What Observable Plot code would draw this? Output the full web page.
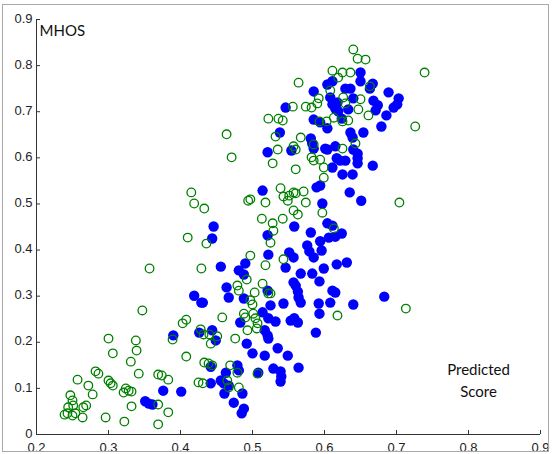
<!DOCTYPE html>
<html>
<head>
<meta charset="utf-8">
<script src="https://cdn.jsdelivr.net/npm/d3@7"></script>
<script src="https://cdn.jsdelivr.net/npm/@observablehq/plot@0.6"></script>
<style>
  html, body { margin: 0; padding: 0; background: #fff; }
  #wrap { position: relative; width: 552px; height: 454px; }
  #border { position: absolute; left: 2px; top: 4px; width: 545px; height: 446px; border: 1px solid #a8a8a8; pointer-events: none; }
</style>
</head>
<body>
<div id="wrap"><div id="border"></div></div>
<script>
const xTicks = [0.2, 0.3, 0.4, 0.5, 0.6, 0.7, 0.8, 0.9];
const yTicks = [0, 0.1, 0.2, 0.3, 0.4, 0.5, 0.6, 0.7, 0.8, 0.9];

// Green open circles
const greenX = [0.239,0.243,0.244,0.247,0.250,0.250,0.251,0.254,0.257,0.264,0.265,0.269,0.272,0.278,0.282,0.286,0.296,0.300,0.300,0.303,0.306,0.306,0.321,0.324,0.322,0.328,0.332,0.332,0.331,0.338,0.339,0.342,0.347,0.369,0.374,0.369,0.383,0.383,0.369,0.389,0.403,0.408,0.408,0.428,0.425,0.431,0.433,0.357,0.410,0.436,0.415,0.419,0.433,0.429,0.464,0.471,0.458,0.442,0.439,0.444,0.469,0.465,0.467,0.481,0.479,0.507,0.440,0.451,0.476,0.493,0.488,0.490,0.501,0.504,0.507,0.506,0.497,0.500,0.503,0.514,0.522,0.479,0.481,0.492,0.497,0.518,0.543,0.525,0.529,0.513,0.528,0.542,0.557,0.563,0.494,0.497,0.518,0.539,0.543,0.549,0.557,0.560,0.571,0.574,0.597,0.613,0.525,0.618,0.713,0.704,0.726,0.739,0.640,0.646,0.657,0.611,0.625,0.636,0.619,0.564,0.663,0.608,0.592,0.590,0.626,0.629,0.650,0.556,0.574,0.582,0.647,0.522,0.536,0.593,0.603,0.613,0.625,0.633,0.661,0.542,0.532,0.567,0.585,0.557,0.560,0.535,0.625,0.643,0.582,0.585,0.594,0.599,0.560,0.528,0.599,0.551,0.432];
const greenY = [0.043,0.046,0.059,0.085,0.074,0.041,0.063,0.046,0.119,0.037,0.059,0.063,0.106,0.087,0.137,0.132,0.037,0.208,0.117,0.111,0.176,0.106,0.091,0.100,0.028,0.095,0.093,0.061,0.158,0.204,0.182,0.132,0.269,0.130,0.128,0.065,0.119,0.048,0.022,0.206,0.241,0.249,0.169,0.228,0.113,0.111,0.156,0.360,0.427,0.414,0.525,0.501,0.490,0.360,0.651,0.601,0.254,0.197,0.154,0.150,0.150,0.117,0.102,0.102,0.134,0.132,0.217,0.213,0.208,0.226,0.262,0.254,0.262,0.252,0.241,0.230,0.291,0.282,0.308,0.327,0.306,0.323,0.312,0.336,0.388,0.367,0.380,0.416,0.442,0.468,0.458,0.468,0.486,0.477,0.507,0.510,0.503,0.534,0.516,0.507,0.525,0.523,0.527,0.503,0.481,0.447,0.306,0.258,0.273,0.503,0.668,0.785,0.835,0.815,0.813,0.789,0.785,0.785,0.774,0.763,0.755,0.746,0.729,0.718,0.731,0.718,0.727,0.711,0.711,0.709,0.705,0.685,0.685,0.679,0.679,0.687,0.679,0.681,0.692,0.681,0.646,0.644,0.629,0.625,0.618,0.618,0.620,0.631,0.601,0.594,0.596,0.579,0.575,0.588,0.557,0.518,0.217];

// Blue filled dots
const blueX = [0.351,0.356,0.361,0.376,0.401,0.390,0.426,0.419,0.429,0.446,0.444,0.456,0.464,0.467,0.444,0.449,0.442,0.442,0.456,0.460,0.467,0.461,0.463,0.474,0.479,0.481,0.486,0.488,0.485,0.483,0.488,0.431,0.492,0.500,0.517,0.535,0.549,0.564,0.508,0.529,0.539,0.540,0.539,0.517,0.521,0.522,0.514,0.522,0.532,0.553,0.558,0.563,0.588,0.593,0.592,0.608,0.640,0.683,0.543,0.525,0.560,0.563,0.564,0.567,0.557,0.521,0.593,0.611,0.615,0.567,0.583,0.599,0.617,0.631,0.546,0.522,0.490,0.481,0.488,0.551,0.557,0.576,0.579,0.585,0.596,0.594,0.606,0.615,0.624,0.581,0.604,0.611,0.558,0.521,0.589,0.594,0.597,0.635,0.651,0.514,0.521,0.554,0.538,0.546,0.585,0.604,0.611,0.629,0.636,0.650,0.650,0.667,0.663,0.689,0.703,0.668,0.674,0.671,0.696,0.701,0.611,0.615,0.619,0.618,0.608,0.633,0.640,0.585,0.594,0.624,0.686,0.679,0.604,0.636,0.639,0.654,0.581,0.583,0.585,0.615,0.604,0.640,0.646,0.646,0.646,0.617,0.622,0.629,0.611,0.667,0.625,0.639,0.601];
const blueY = [0.072,0.067,0.065,0.095,0.093,0.215,0.221,0.301,0.286,0.451,0.425,0.364,0.319,0.297,0.226,0.204,0.147,0.111,0.117,0.111,0.106,0.089,0.134,0.069,0.150,0.139,0.089,0.056,0.046,0.243,0.295,0.286,0.197,0.176,0.171,0.187,0.171,0.145,0.134,0.143,0.137,0.126,0.115,0.226,0.215,0.208,0.265,0.252,0.245,0.247,0.252,0.243,0.221,0.262,0.284,0.286,0.282,0.299,0.284,0.280,0.323,0.310,0.297,0.286,0.330,0.312,0.332,0.312,0.308,0.349,0.349,0.360,0.369,0.373,0.362,0.390,0.371,0.356,0.347,0.395,0.384,0.410,0.397,0.384,0.399,0.419,0.427,0.429,0.436,0.438,0.458,0.453,0.451,0.432,0.536,0.540,0.501,0.525,0.507,0.529,0.612,0.616,0.655,0.709,0.744,0.759,0.766,0.750,0.750,0.785,0.766,0.761,0.750,0.742,0.729,0.724,0.714,0.703,0.709,0.716,0.716,0.707,0.701,0.720,0.731,0.705,0.729,0.683,0.677,0.685,0.692,0.668,0.664,0.655,0.644,0.655,0.642,0.631,0.620,0.625,0.618,0.618,0.609,0.599,0.588,0.599,0.594,0.594,0.579,0.583,0.564,0.564,0.620];

const green = greenX.map((x, i) => ({x, y: greenY[i]}));
const blue = blueX.map((x, i) => ({x, y: blueY[i]}));

const fmt = d => d === 0 ? "0" : d3.format(".1f")(d);

const chart = Plot.plot({
  width: 552,
  height: 454,
  marginLeft: 36,
  marginRight: 12,
  marginTop: 19,
  marginBottom: 20,
  style: {fontFamily: "'Liberation Sans', Arial, sans-serif", fontSize: "13px", color: "#222", background: "transparent", overflow: "visible"},
  x: {domain: [0.2, 0.9], ticks: xTicks, tickFormat: fmt},
  y: {domain: [0, 0.9], ticks: yTicks, tickFormat: fmt},
  marks: [
    Plot.axisX({ticks: xTicks, tickSize: -4, text: null, stroke: "#333", label: null}),
    Plot.axisX({ticks: xTicks, tickFormat: fmt, tickSize: 0, tickPadding: 8, fill: "#222", label: null}),
    Plot.axisY({ticks: yTicks, tickSize: -4, text: null, stroke: "#333", label: null}),
    Plot.axisY({ticks: yTicks, tickFormat: fmt, tickSize: 0, tickPadding: 4, dy: -1, fill: "#222", label: null}),
    Plot.ruleX([0.2], {stroke: "#333", strokeWidth: 1}),
    Plot.ruleY([0], {stroke: "#333", strokeWidth: 1}),
    Plot.dot(blue, {x: "x", y: "y", r: 5.2, fill: "#0000ff", stroke: "none"}),
    Plot.dot(green, {x: "x", y: "y", r: 4.3, fill: "none", stroke: "#008000", strokeWidth: 1.3}),
    Plot.text(["MHOS"], {frameAnchor: "top-left", dx: 3, dy: 12, textAnchor: "start", lineAnchor: "middle", fontSize: 15, fill: "#111", fontFamily: "Lato, 'Open Sans', sans-serif"}),
    Plot.text(["Predicted\nScore"], {frameAnchor: "bottom-right", dx: -62, dy: -56, textAnchor: "middle", lineAnchor: "middle", lineHeight: 1.47, fontSize: 15, fill: "#111", fontFamily: "Lato, 'Open Sans', sans-serif"})
  ]
});
document.getElementById("wrap").prepend(chart);
</script>
</body>
</html>
